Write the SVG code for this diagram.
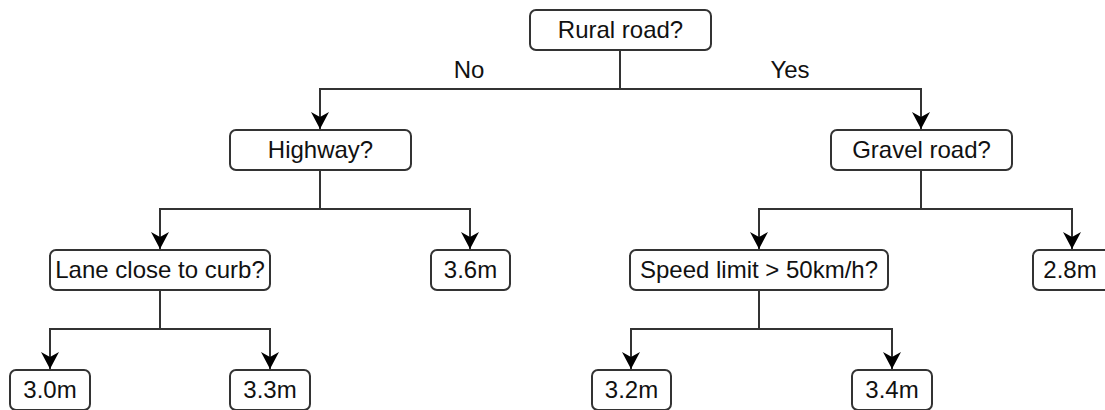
<svg xmlns="http://www.w3.org/2000/svg" width="1105" height="410" viewBox="0 0 1105 410">
  <style>
    .box { fill: #ffffff; stroke: #333333; stroke-width: 2; }
    .lbl { font-family: "Liberation Sans", Arial, sans-serif; font-size: 24px; fill: #111111; text-anchor: middle; }
    .edge { fill: none; stroke: #333333; stroke-width: 2; }
    .arrow { marker-end: url(#head); }
  </style>
  <defs>
    <marker id="head" markerUnits="userSpaceOnUse" markerWidth="20" markerHeight="20" viewBox="-18 -10 20 20" refX="0" refY="0" orient="auto">
      <path d="M0,0 L-17,-9 L-12,0 L-17,9 Z" fill="#000000"/>
    </marker>
  </defs>

  <!-- connectors -->
  <g id="connectors">
    <line class="edge" x1="620" y1="50" x2="620" y2="89"/>
    <polyline class="edge arrow" points="620,89 320,89 320,129"/>
    <polyline class="edge arrow" points="620,89 921,89 921,129"/>

    <line class="edge" x1="320" y1="170" x2="320" y2="209"/>
    <polyline class="edge arrow" points="320,209 160,209 160,249"/>
    <polyline class="edge arrow" points="320,209 470,209 470,249"/>

    <line class="edge" x1="921" y1="170" x2="921" y2="209"/>
    <polyline class="edge arrow" points="921,209 759,209 759,249"/>
    <polyline class="edge arrow" points="921,209 1072,209 1072,249"/>

    <line class="edge" x1="160" y1="290" x2="160" y2="329"/>
    <polyline class="edge arrow" points="160,329 50,329 50,369"/>
    <polyline class="edge arrow" points="160,329 270,329 270,369"/>

    <line class="edge" x1="759" y1="290" x2="759" y2="329"/>
    <polyline class="edge arrow" points="759,329 631,329 631,369"/>
    <polyline class="edge arrow" points="759,329 892,329 892,369"/>

    <text class="lbl" x="469" y="78">No</text>
    <text class="lbl" x="790" y="78">Yes</text>
  </g>

  <!-- nodes -->
  <g id="rural">
    <rect class="box" x="530" y="10" width="181" height="40" rx="6"/>
    <text class="lbl" x="620.5" y="38">Rural road?</text>
  </g>
  <g id="highway">
    <rect class="box" x="230" y="130" width="181" height="40" rx="6"/>
    <text class="lbl" x="320.5" y="158">Highway?</text>
  </g>
  <g id="gravel">
    <rect class="box" x="831" y="130" width="181" height="40" rx="6"/>
    <text class="lbl" x="921.5" y="158">Gravel road?</text>
  </g>
  <g id="curb">
    <rect class="box" x="50" y="250" width="220" height="40" rx="6"/>
    <text class="lbl" x="160" y="278">Lane close to curb?</text>
  </g>
  <g id="w36">
    <rect class="box" x="431" y="250" width="79" height="40" rx="6"/>
    <text class="lbl" x="470.5" y="278">3.6m</text>
  </g>
  <g id="speed">
    <rect class="box" x="630" y="250" width="258" height="40" rx="6"/>
    <text class="lbl" x="759" y="278">Speed limit &gt; 50km/h?</text>
  </g>
  <g id="w28">
    <rect class="box" x="1033" y="250" width="80" height="40" rx="6"/>
    <text class="lbl" x="1070" y="278">2.8m</text>
  </g>
  <g id="w30">
    <rect class="box" x="10" y="370" width="80" height="40" rx="6"/>
    <text class="lbl" x="50" y="398">3.0m</text>
  </g>
  <g id="w33">
    <rect class="box" x="230" y="370" width="80" height="40" rx="6"/>
    <text class="lbl" x="270" y="398">3.3m</text>
  </g>
  <g id="w32">
    <rect class="box" x="592" y="370" width="79" height="40" rx="6"/>
    <text class="lbl" x="631.5" y="398">3.2m</text>
  </g>
  <g id="w34">
    <rect class="box" x="852" y="370" width="80" height="40" rx="6"/>
    <text class="lbl" x="892" y="398">3.4m</text>
  </g>
</svg>
